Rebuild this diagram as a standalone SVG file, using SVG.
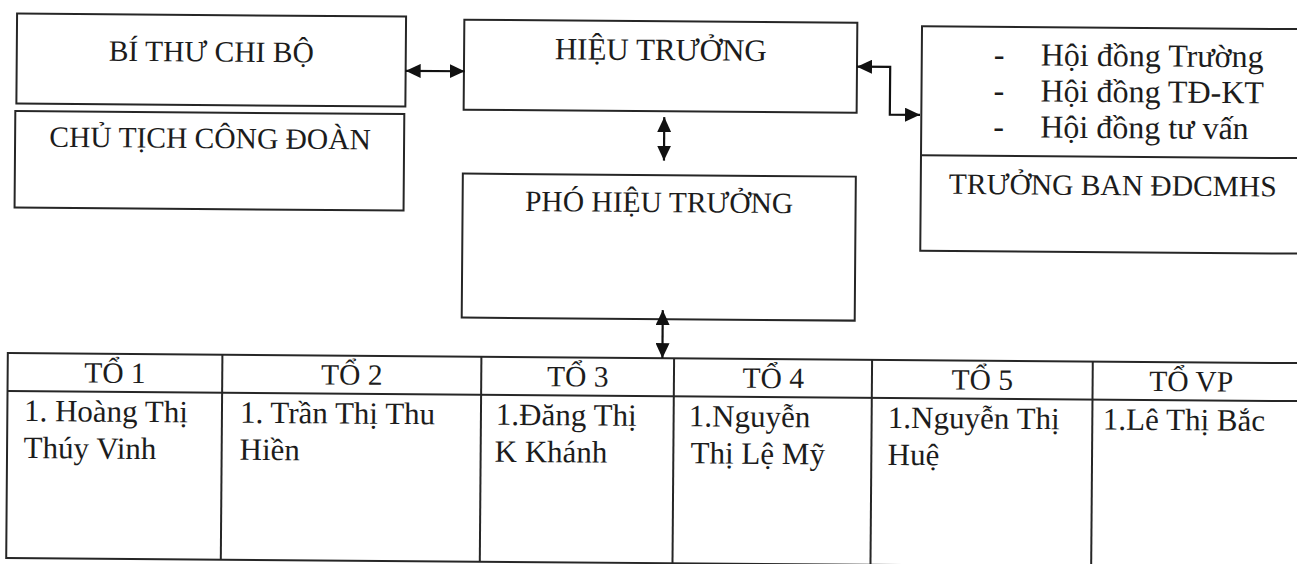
<svg xmlns="http://www.w3.org/2000/svg" width="1297" height="564" viewBox="0 0 1297 564">
<style>
.box{fill:none;stroke:#262626;stroke-width:2}
.ln{stroke:#262626;stroke-width:2;fill:none}
.t{font-family:"Liberation Serif","Times New Roman",serif;fill:#1c1c1c}
.cap{font-size:29.5px;text-anchor:middle}
.big{font-size:31px}
.hd{font-size:29.5px;text-anchor:middle}
.nm{font-size:31px}
.hq{font-size:32px}
.con{stroke:#111;stroke-width:2.2;fill:none;marker-start:url(#ah);marker-end:url(#ah)}
</style>
<defs>
<marker id="ah" viewBox="0 0 15 14" refX="15" refY="7" markerWidth="15" markerHeight="14" markerUnits="userSpaceOnUse" orient="auto-start-reverse">
<path d="M0,0 L15,7 L0,14 z" fill="#111"/>
</marker>
</defs>
<rect width="1297" height="564" fill="#ffffff"/>
<g transform="rotate(0.45 648 282)">
<g id="bi-thu">
<rect class="box" x="15" y="18.5" width="389" height="90"/>
<text class="t cap" x="209.5" y="65">BÍ THƯ CHI BỘ</text>
</g>
<g id="chu-tich">
<rect class="box" x="14" y="116" width="389" height="96.5"/>
<text class="t cap" x="209" y="151.5">CHỦ TỊCH CÔNG ĐOÀN</text>
</g>
<g id="hieu-truong">
<rect class="box" x="462.3" y="21.2" width="393" height="90"/>
<text class="t cap big" x="659" y="60">HIỆU TRƯỞNG</text>
</g>
<g id="pho-hieu-truong">
<rect class="box" x="462" y="175" width="393" height="144"/>
<text class="t cap" x="658.5" y="212">PHÓ HIỆU TRƯỞNG</text>
</g>
<g id="hoi-dong">
<rect class="box" x="920" y="24" width="400" height="224.5"/>
<line class="ln" x1="920" y1="153" x2="1320" y2="153"/>
<text class="t hq" x="992" y="62.5">-</text>
<text class="t hq" x="1039" y="62.5">Hội đồng Trường</text>
<text class="t hq" x="992" y="98.5">-</text>
<text class="t hq" x="1039" y="98.5">Hội đồng TĐ-KT</text>
<text class="t hq" x="992" y="134.5">-</text>
<text class="t hq" x="1039" y="134.5">Hội đồng tư vấn</text>
<text class="t cap" x="1112" y="191.5">TRƯỞNG BAN ĐDCMHS</text>
</g>
<g id="to-table">
<rect class="box" x="8.4" y="358" width="1320" height="205"/>
<line class="ln" x1="8.4" y1="396" x2="1328" y2="396"/>
<line class="ln" x1="223" y1="358" x2="223" y2="563"/>
<line class="ln" x1="482" y1="358" x2="482" y2="563"/>
<line class="ln" x1="674.7" y1="358" x2="674.7" y2="563"/>
<line class="ln" x1="872.7" y1="358" x2="872.7" y2="563"/>
<line class="ln" x1="1093.4" y1="358" x2="1093.4" y2="563"/>
<g id="to-1">
<text class="t hd" x="115.7" y="387">TỔ 1</text>
<text class="t nm" x="25" y="426">1. Hoàng Thị</text>
<text class="t nm" x="25" y="463">Thúy Vinh</text>
</g>
<g id="to-2">
<text class="t hd" x="352.5" y="387">TỔ 2</text>
<text class="t nm" x="241" y="426">1. Trần Thị Thu</text>
<text class="t nm" x="241" y="463">Hiền</text>
</g>
<g id="to-3">
<text class="t hd" x="578.5" y="387">TỔ 3</text>
<text class="t nm" x="497" y="426">1.Đăng Thị</text>
<text class="t nm" x="496" y="463">K Khánh</text>
</g>
<g id="to-4">
<text class="t hd" x="774" y="387">TỔ 4</text>
<text class="t nm" x="690" y="426">1.Nguyễn</text>
<text class="t nm" x="692" y="463">Thị Lệ Mỹ</text>
</g>
<g id="to-5">
<text class="t hd" x="983" y="387">TỔ 5</text>
<text class="t nm" x="889" y="426">1.Nguyễn Thị</text>
<text class="t nm" x="889" y="463">Huệ</text>
</g>
<g id="to-vp">
<text class="t hd" x="1192" y="387">TỔ VP</text>
<text class="t nm" x="1104" y="426">1.Lê Thị Bắc</text>
</g>
</g>
<g id="connectors">
<path class="con" d="M404,72.7 H463"/>
<path class="con" d="M663,117 V160.5"/>
<path class="con" d="M663,310 V358"/>
<path class="con" d="M855.3,65 H888.5 V112.7 H918.7"/>
</g>
</g>
</svg>
